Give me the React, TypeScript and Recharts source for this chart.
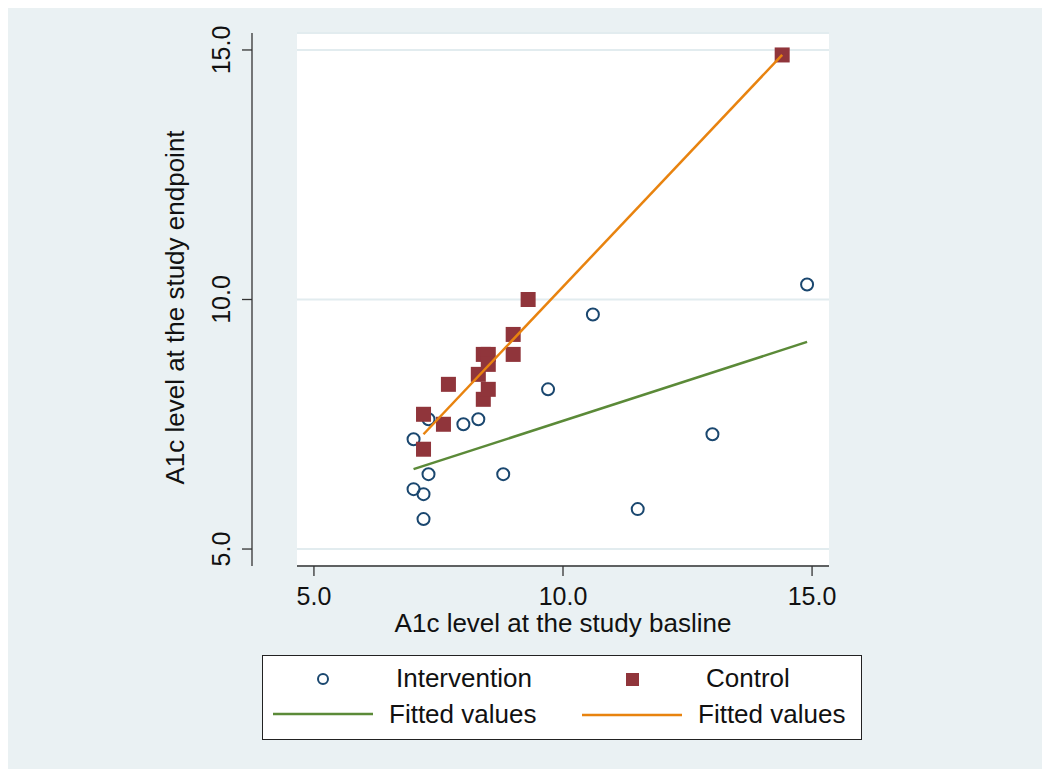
import { ScatterChart, Scatter, XAxis, YAxis, CartesianGrid, Legend } from "recharts";

// Intervention group (hollow circles)
const interventionBaseline = [7.0, 7.3, 8.0, 8.3, 9.7, 10.6, 14.9, 13.0, 11.5, 8.8, 7.3, 7.0, 7.2, 7.2];
const interventionEndpoint = [7.2, 7.6, 7.5, 7.6, 8.2, 9.7, 10.3, 7.3, 5.8, 6.5, 6.5, 6.2, 6.1, 5.6];

// Control group (filled squares)
const controlBaseline = [7.2, 7.2, 7.6, 7.7, 8.3, 8.4, 8.5, 8.4, 8.5, 8.5, 9.0, 9.0, 9.3, 14.4];
const controlEndpoint = [7.0, 7.7, 7.5, 8.3, 8.5, 8.0, 8.2, 8.9, 8.9, 8.7, 8.9, 9.3, 10.0, 14.9];

// Fitted values (end points of each fitted line)
const fitInterventionX = [7.0, 14.9];
const fitInterventionY = [6.6, 9.15];
const fitControlX = [7.2, 14.4];
const fitControlY = [7.3, 14.9];

const axisTicks = [5, 10, 15];
const axisDomain = [4.66, 15.34];

const NAVY = "#1a476f";
const MAROON = "#90353b";
const GREEN = "#5b8a38";
const ORANGE = "#e8830f";
const FONT = "'Liberation Sans', Arial, sans-serif";

const zip = (xs: number[], ys: number[]) => xs.map((x, i) => ({ x, y: ys[i] }));

const interventionData = zip(interventionBaseline, interventionEndpoint);
const controlData = zip(controlBaseline, controlEndpoint);
const fitInterventionData = zip(fitInterventionX, fitInterventionY);
const fitControlData = zip(fitControlX, fitControlY);

function HollowCircle(props: any) {
	return <circle cx={props.cx} cy={props.cy} r={6} fill="none" stroke={NAVY} strokeWidth={2} />;
}

function FilledSquare(props: any) {
	return <rect x={props.cx - 7.5} y={props.cy - 7.5} width={15} height={15} fill={MAROON} />;
}

function NoMarker() {
	return <g />;
}

function XTick(props: any) {
	const { x, y, payload } = props;
	return (
		<text x={x} y={y + 29} textAnchor="middle" fontSize={25} fontFamily={FONT} fill="#111">
			{Number(payload.value).toFixed(1)}
		</text>
	);
}

function YTick(props: any) {
	const { x, y, payload } = props;
	const tx = x - 12;
	return (
		<text
			x={tx}
			y={y}
			transform={`rotate(-90 ${tx} ${y})`}
			textAnchor="middle"
			fontSize={25}
			fontFamily={FONT}
			fill="#111"
		>
			{Number(payload.value).toFixed(1)}
		</text>
	);
}

function XTitle(props: any) {
	const vb = props.viewBox;
	return (
		<text x={vb.x + vb.width / 2} y={vb.y + 66} textAnchor="middle" fontSize={26} fontFamily={FONT} fill="#111">
			A1c level at the study basline
		</text>
	);
}

function YTitle(props: any) {
	const vb = props.viewBox;
	const tx = vb.x + vb.width - 68;
	const ty = vb.y + vb.height / 2 + 8;
	return (
		<text
			x={tx}
			y={ty}
			transform={`rotate(-90 ${tx} ${ty})`}
			textAnchor="middle"
			fontSize={26}
			fontFamily={FONT}
			fill="#111"
		>
			A1c level at the study endpoint
		</text>
	);
}

function LegendBox() {
	const textProps = { fontSize: 26, fontFamily: FONT, fill: "#111" };
	return (
		<svg width={600} height={85} style={{ display: "block" }}>
			<rect x={0.5} y={0.5} width={599} height={84} fill="#fff" stroke="#222" strokeWidth={1} />
			<circle cx={61} cy={24} r={5} fill="none" stroke={NAVY} strokeWidth={2} />
			<text x={134} y={32} {...textProps}>Intervention</text>
			<rect x={364} y={18} width={13} height={13} fill={MAROON} />
			<text x={444} y={32} {...textProps}>Control</text>
			<line x1={11} x2={111} y1={59} y2={59} stroke={GREEN} strokeWidth={2.5} />
			<text x={127} y={68} {...textProps}>Fitted values</text>
			<line x1={320} x2={420} y1={60} y2={60} stroke={ORANGE} strokeWidth={2.5} />
			<text x={436} y={68} {...textProps}>Fitted values</text>
		</svg>
	);
}

export default function App() {
	return (
		<div style={{ width: 1042, height: 761, background: "#eaf1f3", position: "relative" }}>
			<ScatterChart width={1042} height={761} margin={{ top: 25, right: 221, bottom: 123, left: 164 }}>
				<CartesianGrid
					yAxisId="outer"
					vertical={false}
					stroke="#e2ecef"
					strokeWidth={2}
					fill="#ffffff"
					fillOpacity={1}
				/>
				<XAxis
					type="number"
					dataKey="x"
					domain={axisDomain}
					ticks={axisTicks}
					allowDataOverflow
					height={80}
					tickSize={10}
					tickMargin={0}
					stroke="#333"
					strokeWidth={1.3}
					tick={XTick}
					label={XTitle}
				/>
				<YAxis
					yAxisId="outer"
					type="number"
					dataKey="y"
					domain={axisDomain}
					ticks={axisTicks}
					allowDataOverflow
					width={80}
					tickSize={10}
					tickMargin={0}
					stroke="#333"
					strokeWidth={1.3}
					tick={YTick}
					label={YTitle}
				/>
				{/* empty spacer axis: keeps the drawn y axis away from the plot region */}
				<YAxis
					yAxisId="inner"
					type="number"
					domain={axisDomain}
					allowDataOverflow
					width={45}
					axisLine={false}
					tickLine={false}
					tick={false}
				/>
				<Scatter yAxisId="outer" name="Intervention" data={interventionData} shape={HollowCircle} isAnimationActive={false} />
				<Scatter yAxisId="outer" name="Control" data={controlData} shape={FilledSquare} isAnimationActive={false} />
				<Scatter
					yAxisId="outer"
					name="Fitted values"
					data={fitInterventionData}
					shape={NoMarker}
					line={{ stroke: GREEN, strokeWidth: 2.5 }}
					isAnimationActive={false}
				/>
				<Scatter
					yAxisId="outer"
					name="Fitted values"
					data={fitControlData}
					shape={NoMarker}
					line={{ stroke: ORANGE, strokeWidth: 2.5 }}
					isAnimationActive={false}
				/>
				<Legend
					layout="vertical"
					align="center"
					verticalAlign="middle"
					wrapperStyle={{ left: 254, top: 647, width: 600, height: 85 }}
					content={LegendBox}
				/>
			</ScatterChart>
		</div>
	);
}
